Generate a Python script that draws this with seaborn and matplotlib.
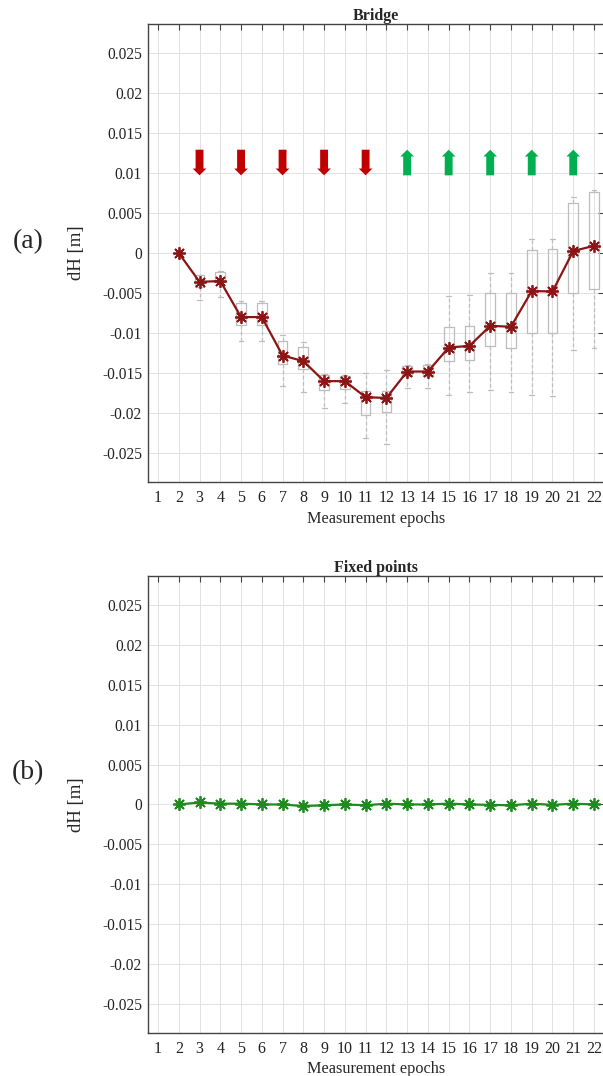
import numpy as np
import pandas as pd
import matplotlib
matplotlib.use("Agg")
import matplotlib.pyplot as plt
import seaborn as sns

# ---------------- data ----------------
epochs = list(range(1, 23))
bridge_epochs = list(range(2, 23))
bridge_dh = [0.0, -0.0036, -0.0035, -0.0080, -0.0080, -0.0128, -0.0135, -0.0160,
             -0.0160, -0.0180, -0.0181, -0.0148, -0.0148, -0.0118, -0.0116,
             -0.0091, -0.0092, -0.00475, -0.0048, 0.00025, 0.0009]

box_epochs = list(range(3, 23))
box_low = [-0.0059, -0.0055, -0.0110, -0.0110, -0.0166, -0.0173, -0.0194, -0.0187,
           -0.0231, -0.0239, -0.0169, -0.0169, -0.0177, -0.0174, -0.0171, -0.0173,
           -0.0177, -0.0178, -0.0121, -0.0118]
box_q1 = [-0.0043, -0.0036, -0.0090, -0.0090, -0.0138, -0.0145, -0.0171, -0.0170,
          -0.0202, -0.0198, -0.0153, -0.0153, -0.0135, -0.0133, -0.0116, -0.0118,
          -0.0100, -0.0100, -0.0050, -0.0045]
box_med = [-0.0036, -0.0035, -0.0080, -0.0080, -0.0128, -0.0135, -0.0160, -0.0160,
           -0.0180, -0.0181, -0.0148, -0.0148, -0.0118, -0.0116, -0.0091, -0.0092,
           -0.00475, -0.0048, 0.00025, 0.0009]
box_q3 = [-0.00275, -0.0024, -0.0063, -0.0062, -0.0110, -0.0117, -0.01525, -0.0154,
          -0.0172, -0.0172, -0.0141, -0.0140, -0.0093, -0.0091, -0.0050, -0.0050,
          0.0004, 0.0005, 0.0062, 0.0076]
box_high = [-0.0027, -0.0023, -0.0060, -0.0060, -0.0102, -0.0111, -0.0151, -0.0152,
            -0.0150, -0.0146, -0.0140, -0.0139, -0.0054, -0.0053, -0.0025, -0.0025,
            0.0018, 0.0018, 0.0070, 0.0079]

fixed_epochs = list(range(2, 23))
fixed_dh = [0.0, 0.00025, 0.0001, 0.0001, 0.0, 0.0, -0.0002, -0.0001, 0.0, -0.0001,
            0.0001, 0.0, 0.0, 0.0001, 0.0, -0.00005, -0.0001, 0.0001, -0.00005,
            0.0001, 0.0]

down_epochs = [3, 5, 7, 9, 11]
up_epochs = [13, 15, 17, 19, 21]
arrow_top = 0.0129
arrow_bottom = 0.0097

ytick_vals = [0.025, 0.02, 0.015, 0.01, 0.005, 0, -0.005, -0.01, -0.015, -0.02, -0.025]
ytick_labels = ["0.025", "0.02", "0.015", "0.01", "0.005", "0", "-0.005", "-0.01",
                "-0.015", "-0.02", "-0.025"]

# ---------------- style ----------------
sns.set_style("white")
plt.rcParams["font.family"] = ["Liberation Serif", "DejaVu Serif"]

RED_LINE = "#8b1414"
RED_ARROW = "#c00000"
GREEN_ARROW = "#00b050"
GREEN_LINE = "#1f8a1f"
SPINE = "#444444"
GRID = "#e2e2e2"
BOXC = "#bdbdbd"

fig = plt.figure(figsize=(6.03, 10.76), dpi=100)
ax1 = fig.add_axes([0.2448, 0.552, 0.7575, 0.4257])
ax2 = fig.add_axes([0.2448, 0.040, 0.7575, 0.4247])


def style_axes(ax, title):
    ax.set_xlim(0.5, 22.5)
    ax.set_ylim(-0.0286, 0.0286)
    ax.set_xticks(epochs)
    ax.set_xticklabels([str(e) for e in epochs], fontsize=11.5)
    ax.set_yticks(ytick_vals)
    ax.set_yticklabels(ytick_labels, fontsize=11.2)
    ax.grid(True, color=GRID, linewidth=0.7)
    ax.set_axisbelow(True)
    ax.tick_params(direction="in", top=True, right=True, length=4, width=0.8,
                   color=SPINE, labelcolor="#222222", pad=4)
    ax.tick_params(axis="x", pad=6)
    for s in ax.spines.values():
        s.set_color(SPINE)
        s.set_linewidth(1.0)
        s.set_visible(True)
    ax.set_title(title, fontsize=11.5, fontweight="bold", pad=3)
    ax.set_xlabel("Measurement epochs", fontsize=11.7, labelpad=3)
    ax.set_ylabel("dH [m]", fontsize=13.5)
    ax.yaxis.set_label_coords(-0.137, 0.5)


# ---------------- top: bridge ----------------
rows = []
for e, lo, q1, md, q3, hi in zip(box_epochs, box_low, box_q1, box_med, box_q3, box_high):
    for v in (lo, q1, md, q3, hi):
        rows.append({"epoch": e, "dh": v})
box_df = pd.DataFrame(rows)

sns.boxplot(data=box_df, x="epoch", y="dh", native_scale=True, ax=ax1,
            width=0.47, fill=False, color=BOXC, linewidth=0.9, whis=(0, 100),
            showfliers=False,
            whiskerprops={"linestyle": (0, (3, 2))},
            medianprops={"color": BOXC})

line_df = pd.DataFrame({"epoch": bridge_epochs, "dh": bridge_dh})
sns.lineplot(data=line_df, x="epoch", y="dh", ax=ax1, color=RED_LINE, linewidth=1.6,
             marker=(8, 2, 0), markersize=9, markeredgecolor=RED_LINE,
             markeredgewidth=1.3, zorder=5)

for e in down_epochs:
    ax1.arrow(e, arrow_top, 0, arrow_bottom - arrow_top, width=0.38, head_width=0.66,
              head_length=0.00085, length_includes_head=True, color=RED_ARROW, lw=0,
              zorder=4)
for e in up_epochs:
    ax1.arrow(e, arrow_bottom, 0, arrow_top - arrow_bottom, width=0.38, head_width=0.66,
              head_length=0.00085, length_includes_head=True, color=GREEN_ARROW, lw=0,
              zorder=4)

style_axes(ax1, "Bridge")

# ---------------- bottom: fixed points ----------------
fixed_df = pd.DataFrame({"epoch": fixed_epochs, "dh": fixed_dh})
sns.lineplot(data=fixed_df, x="epoch", y="dh", ax=ax2, color=GREEN_LINE, linewidth=1.6,
             marker=(8, 2, 0), markersize=9, markeredgecolor=GREEN_LINE,
             markeredgewidth=1.3, zorder=5)
style_axes(ax2, "Fixed points")

fig.text(0.046, 0.775, "(a)", fontsize=20, ha="center", va="center")
fig.text(0.046, 0.282, "(b)", fontsize=20, ha="center", va="center")

fig.savefig("out.png", dpi=100)
